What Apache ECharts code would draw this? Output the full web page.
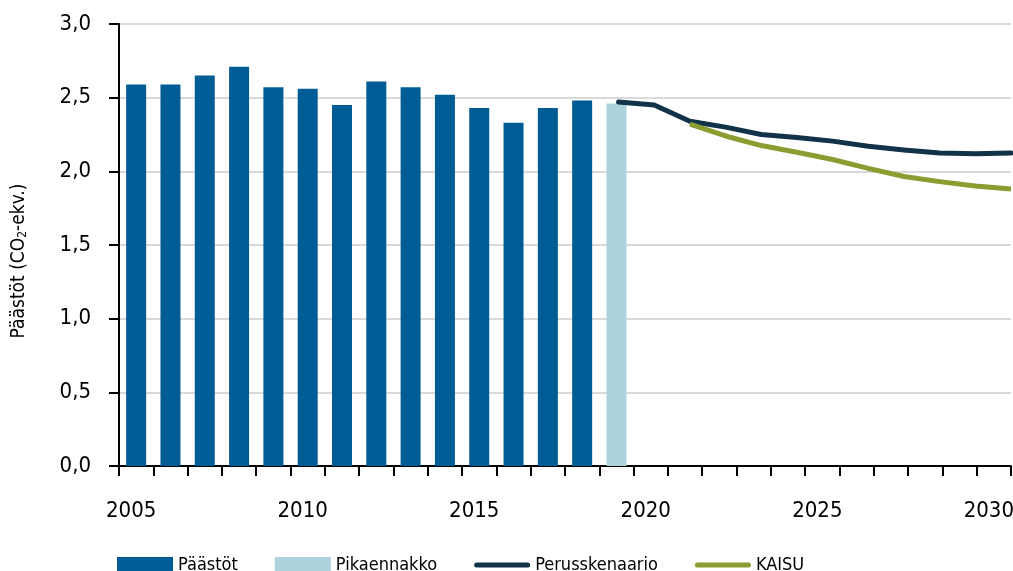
<!DOCTYPE html>
<html>
<head>
<meta charset="UTF-8">
<title></title>
<style>
  html, body { margin: 0; padding: 0; background: #fff; }
</style>
</head>
<body>
<div id="echart" style="width: 1013px; height: 571px;"></div>
<script src="https://cdn.jsdelivr.net/npm/echarts@6/dist/echarts.min.js" type="text/javascript" charset="utf-8"></script>
<script type="text/javascript">
// vuodet (kategoriat)
var years = [];
for (var y = 2005; y <= 2030; y++) years.push(String(y));

// toteutuneet päästöt 2005-2018
var paastot = [2.59, 2.59, 2.65, 2.71, 2.57, 2.56, 2.45, 2.61, 2.57, 2.52, 2.43, 2.33, 2.43, 2.48];
// pikaennakko 2019
var pikaYear = '2019';
var pikaValue = 2.46;
// skenaariot
var perusYears = [2019, 2020, 2021, 2022, 2023, 2024, 2025, 2026, 2027, 2028, 2029, 2030];
var perusValues = [2.47, 2.45, 2.34, 2.30, 2.25, 2.23, 2.205, 2.17, 2.145, 2.125, 2.12, 2.125];
var kaisuYears = [2021, 2022, 2023, 2024, 2025, 2026, 2027, 2028, 2029, 2030];
var kaisuValues = [2.32, 2.24, 2.175, 2.13, 2.08, 2.02, 1.965, 1.93, 1.90, 1.88];

var FONT = "'DejaVu Sans Condensed', 'Liberation Sans Narrow', 'Liberation Sans', sans-serif";
// paksu viiva legendaan
var LINE_ICON = 'path://M2.5,0 L53.5,0 A2.5,2.5 0 0 1 53.5,5 L2.5,5 A2.5,2.5 0 0 1 2.5,0 Z';

function pairs(xs, vs) {
	var out = [];
	for (var i = 0; i < xs.length; i++) out.push([xs[i], vs[i]]);
	return out;
}

var barData = years.map(function (yr, i) { return i < paastot.length ? paastot[i] : null; });
var pikaData = years.map(function (yr) { return yr === pikaYear ? pikaValue : null; });

var myChart = echarts.init(document.getElementById('echart'));
myChart.setOption({
	animation: false,
	textStyle: { fontFamily: FONT },
	grid: { left: 119, right: 2, top: 24, bottom: 105, containLabel: false, outerBoundsMode: 'none' },
	legend: {
		left: 117,
		top: 556,
		padding: 0,
		itemWidth: 56,
		itemHeight: 16,
		itemGap: 37,
		textStyle: { fontFamily: FONT, fontSize: 18, color: '#000' },
		data: [
			{ name: 'Päästöt', icon: 'rect' },
			{ name: 'Pikaennakko', icon: 'rect' },
			{ name: 'Perusskenaario', icon: LINE_ICON, symbolKeepAspect: true },
			{ name: 'KAISU', icon: LINE_ICON, symbolKeepAspect: true }
		]
	},
	xAxis: [{
		type: 'category',
		data: years,
		boundaryGap: true,
		axisLine: { lineStyle: { color: '#000', width: 2 } },
		axisTick: { show: true, interval: 0, length: 10, lineStyle: { color: '#000', width: 2 } },
		axisLabel: {
			interval: 4,
			margin: 34,
			color: '#000',
			fontSize: 22,
			fontFamily: FONT,
			padding: [0, 10, 0, 0]
		},
		splitLine: { show: false }
	}, {
		type: 'value',
		min: 2005,
		max: 2030,
		show: false,
		splitLine: { show: false }
	}],
	yAxis: {
		type: 'value',
		min: 0,
		max: 3,
		interval: 0.5,
		name: 'Päästöt (CO{sub|2}-ekv.)',
		nameLocation: 'middle',
		nameGap: 90,
		nameTextStyle: {
			fontFamily: FONT,
			fontSize: 19,
			color: '#000',
			padding: [0, 32, 0, 0],
			rich: { sub: { fontSize: 12, verticalAlign: 'bottom', padding: [7, 0, 0, 0], fontFamily: FONT } }
		},
		axisLine: { show: true, lineStyle: { color: '#000', width: 2 } },
		axisTick: { show: true, length: 10, lineStyle: { color: '#000', width: 2 } },
		axisLabel: {
			margin: 28,
			color: '#000',
			fontSize: 22,
			fontFamily: FONT,
			formatter: function (v) { return v.toFixed(1).replace('.', ','); }
		},
		splitLine: { show: true, lineStyle: { color: '#d9d9d9', width: 2 } }
	},
	series: [{
		name: 'Päästöt',
		type: 'bar',
		barWidth: 20,
		barGap: '-100%',
		itemStyle: { color: '#005c94' },
		data: barData
	}, {
		name: 'Pikaennakko',
		type: 'bar',
		barWidth: 20,
		barGap: '-100%',
		itemStyle: { color: '#add3dd' },
		data: pikaData
	}, {
		name: 'Perusskenaario',
		type: 'line',
		xAxisIndex: 1,
		symbol: 'none',
		lineStyle: { color: '#10334a', width: 5, cap: 'round', join: 'round' },
		itemStyle: { color: '#10334a' },
		data: pairs(perusYears, perusValues)
	}, {
		name: 'KAISU',
		type: 'line',
		xAxisIndex: 1,
		symbol: 'none',
		lineStyle: { color: '#8b9c30', width: 5, cap: 'butt', join: 'round' },
		itemStyle: { color: '#8b9c30' },
		data: pairs(kaisuYears, kaisuValues)
	}]
});
</script>
</body>
</html>
